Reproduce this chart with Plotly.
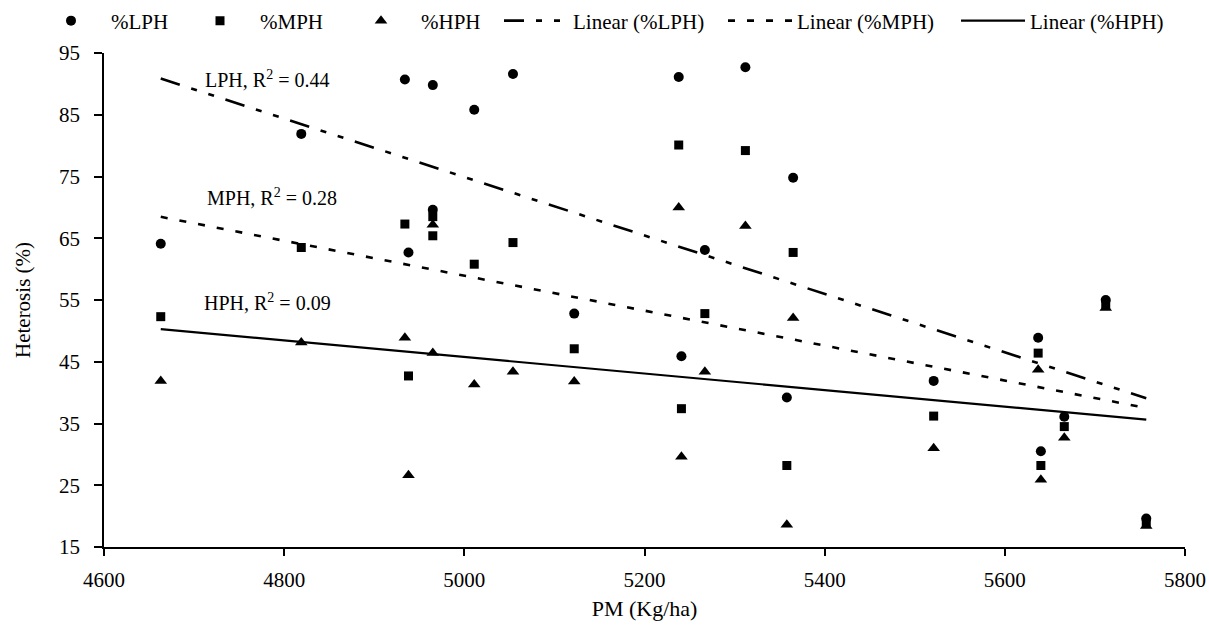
import numpy as np
import plotly.graph_objects as go

# ---- data ----
pm = [4663, 4819, 4934, 4938, 4965, 4965, 5011, 5054, 5122, 5238, 5241,
      5267, 5312, 5365, 5358, 5521, 5637, 5640, 5666, 5712, 5757]
lph = [64.1, 81.9, 90.7, 62.7, 89.8, 69.6, 85.8, 91.6, 52.8, 91.1, 45.9,
       63.1, 92.7, 74.8, 39.2, 41.9, 48.9, 30.5, 36.1, 55.0, 19.6]
mph = [52.3, 63.5, 67.3, 42.7, 65.4, 68.5, 60.8, 64.3, 47.1, 80.1, 37.4,
       52.8, 79.2, 62.7, 28.2, 36.2, 46.4, 28.2, 34.5, 54.3, 19.0]
hph = [41.9, 48.1, 48.9, 26.6, 46.4, 67.2, 41.3, 43.4, 41.8, 70.0, 29.6,
       43.4, 67.0, 52.1, 18.6, 31.0, 43.7, 25.9, 32.7, 53.7, 18.4]
r2_labels = ["LPH, R<sup>2</sup> = 0.44", "MPH, R<sup>2</sup> = 0.28", "HPH, R<sup>2</sup> = 0.09"]
x_ticks = [4600, 4800, 5000, 5200, 5400, 5600, 5800]
y_ticks = [15, 25, 35, 45, 55, 65, 75, 85, 95]

FONT = "Liberation Serif"
W, H = 1209, 629

fig = go.Figure()

markers = [("%LPH", lph, "circle", 10, "legend"),
           ("%MPH", mph, "square", 9, "legend2"),
           ("%HPH", hph, "triangle-up", 11, "legend3")]
for name, vals, sym, sz, lg in markers:
    fig.add_trace(go.Scatter(x=pm, y=vals, mode="markers", name=name, legend=lg,
                             showlegend=True,
                             marker=dict(symbol=sym, size=sz, color="black")))

xs = np.array(pm, dtype=float)
xfit = np.array([xs.min(), xs.max()])
lines = [("Linear (%LPH)", lph, "20px,12px,6px,12px,6px,12px", 2.6, "legend4"),
         ("Linear (%MPH)", mph, "7px,12px", 2.6, "legend5"),
         ("Linear (%HPH)", hph, "solid", 2.2, "legend6")]
for name, vals, dash, w, lg in lines:
    k, b = np.polyfit(xs, np.array(vals, dtype=float), 1)
    fig.add_trace(go.Scatter(x=xfit, y=k * xfit + b, mode="lines", name=name, legend=lg,
                             showlegend=True,
                             line=dict(color="black", width=w, dash=dash)))

def legend_at(xpx, iw):
    return dict(x=xpx / W, y=1 - 21 / H, xref="container", yref="container",
                xanchor="left", yanchor="middle", orientation="h",
                itemwidth=iw, bgcolor="rgba(0,0,0,0)", borderwidth=0,
                font=dict(family=FONT, size=21, color="black"))

ann_pos = [(4710, 90.8), (4712, 71.7), (4709, 54.7)]
annotations = []
for (ax, ay), txt in zip(ann_pos, r2_labels):
    annotations.append(dict(x=ax, y=ay, xref="x", yref="y", text=txt, showarrow=False,
                            xanchor="left", yanchor="middle",
                            font=dict(family=FONT, size=20, color="black")))

fig.update_layout(
    width=W, height=H, showlegend=True,
    margin=dict(l=104, r=24, t=53, b=82, autoexpand=False),
    paper_bgcolor="white", plot_bgcolor="white",
    font=dict(family=FONT, size=21, color="black"),
    legend=legend_at(31, 70),
    legend2=legend_at(180, 70),
    legend3=legend_at(341, 70),
    legend4=legend_at(499, 64),
    legend5=legend_at(723, 64),
    legend6=legend_at(956, 64),
    annotations=annotations,
    xaxis=dict(range=[4600, 5800], tickvals=x_ticks, showgrid=False, zeroline=False,
               showline=True, linecolor="black", linewidth=1.5,
               ticks="outside", ticklen=7, tickwidth=1.5, tickcolor="black",
               ticklabelstandoff=6, tickfont=dict(family=FONT, size=21),
               title=dict(text="PM (Kg/ha)", font=dict(family=FONT, size=22), standoff=10)),
    yaxis=dict(range=[15, 95], tickvals=y_ticks, showgrid=False, zeroline=False,
               showline=True, linecolor="black", linewidth=1.5,
               ticks="outside", ticklen=8, tickwidth=1.5, tickcolor="black",
               ticklabelstandoff=10, tickfont=dict(family=FONT, size=21),
               title=dict(text="Heterosis (%)", font=dict(family=FONT, size=21), standoff=23)),
)

fig.write_html("out.html", config={"displayModeBar": False},
               post_script="document.body.style.margin='0';")
